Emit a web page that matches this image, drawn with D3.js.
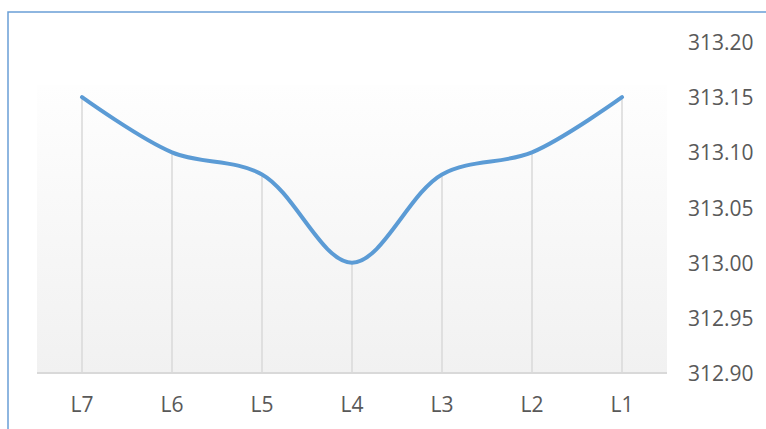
<!DOCTYPE html>
<html>
<head>
<meta charset="utf-8">
<script src="https://cdn.jsdelivr.net/npm/d3@7"></script>
<style>
  html, body { margin: 0; padding: 0; background: #fff; overflow: hidden; }
  #chart { display: block; }
</style>
</head>
<body>
<svg id="chart" width="766" height="429"></svg>
<script>
// ── data ────────────────────────────────────────────────
const categories = ["L7", "L6", "L5", "L4", "L3", "L2", "L1"];
const values = [313.15, 313.10, 313.08, 313.00, 313.08, 313.10, 313.15];
const yTicks = [312.90, 312.95, 313.00, 313.05, 313.10, 313.15, 313.20];

const svg = d3.select("#chart");
const width = 766, height = 429;
const margin = { top: 42, right: 99, bottom: 56, left: 37 };
const innerWidth = width - margin.left - margin.right;
const innerHeight = height - margin.top - margin.bottom;

const xScale = d3.scaleBand().domain(categories).range([0, innerWidth]);
const yScale = d3.scaleLinear().domain([312.90, 313.20]).range([innerHeight, 0]);

// outer frame (left + top edges only)
svg.append("path")
  .attr("d", `M8,${height} V12 H${width}`)
  .attr("fill", "none")
  .attr("stroke", "#6a9fd6")
  .attr("stroke-width", 1.5);

const group = svg.append("g").attr("transform", `translate(${margin.left},${margin.top})`);

// plot area gradient
const defs = svg.append("defs");
const grad = defs.append("linearGradient")
  .attr("id", "bg").attr("x1", 0).attr("y1", 0).attr("x2", 0).attr("y2", 1);
grad.append("stop").attr("offset", "0%").attr("stop-color", "#fefefe");
grad.append("stop").attr("offset", "100%").attr("stop-color", "#f1f1f1");

const bgTop = yScale(313.161);
group.append("rect")
  .attr("x", 0).attr("y", bgTop)
  .attr("width", innerWidth).attr("height", innerHeight - bgTop)
  .attr("fill", "url(#bg)");

const cx = (d) => xScale(d) + xScale.bandwidth() / 2;

// drop lines from each point down to the axis
group.append("g")
  .selectAll("line")
  .data(categories)
  .join("line")
  .attr("x1", cx).attr("x2", cx)
  .attr("y1", (d, i) => yScale(values[i]))
  .attr("y2", innerHeight)
  .attr("stroke", "#d9d9d9")
  .attr("stroke-width", 1.5);

// x axis line
group.append("line")
  .attr("x1", 0).attr("x2", innerWidth)
  .attr("y1", innerHeight).attr("y2", innerHeight)
  .attr("stroke", "#d9d9d9")
  .attr("stroke-width", 2);

// tick labels (plain text, centred on their positions)
const labelFont = "'Open Sans', sans-serif";
group.append("g")
  .selectAll("text")
  .data(categories)
  .join("text")
  .attr("x", cx)
  .attr("y", innerHeight + 31)
  .attr("text-anchor", "middle")
  .attr("dominant-baseline", "central")
  .attr("font-family", labelFont)
  .attr("font-size", 21)
  .attr("fill", "#595959")
  .text((d) => d);

group.append("g")
  .selectAll("text")
  .data(yTicks)
  .join("text")
  .attr("x", innerWidth + 21)
  .attr("y", (d) => yScale(d))
  .attr("text-anchor", "start")
  .attr("dominant-baseline", "central")
  .attr("font-family", labelFont)
  .attr("font-size", 21)
  .attr("fill", "#595959")
  .text(d3.format(".2f"));

// smoothed line
const line = d3.line()
  .x((d, i) => cx(categories[i]))
  .y((d) => yScale(d))
  .curve(d3.curveCatmullRom.alpha(0.5));

group.append("path")
  .datum(values)
  .attr("d", line)
  .attr("fill", "none")
  .attr("stroke", "#5b9bd5")
  .attr("stroke-width", 4)
  .attr("stroke-linecap", "round")
  .attr("stroke-linejoin", "round");
</script>
</body>
</html>
